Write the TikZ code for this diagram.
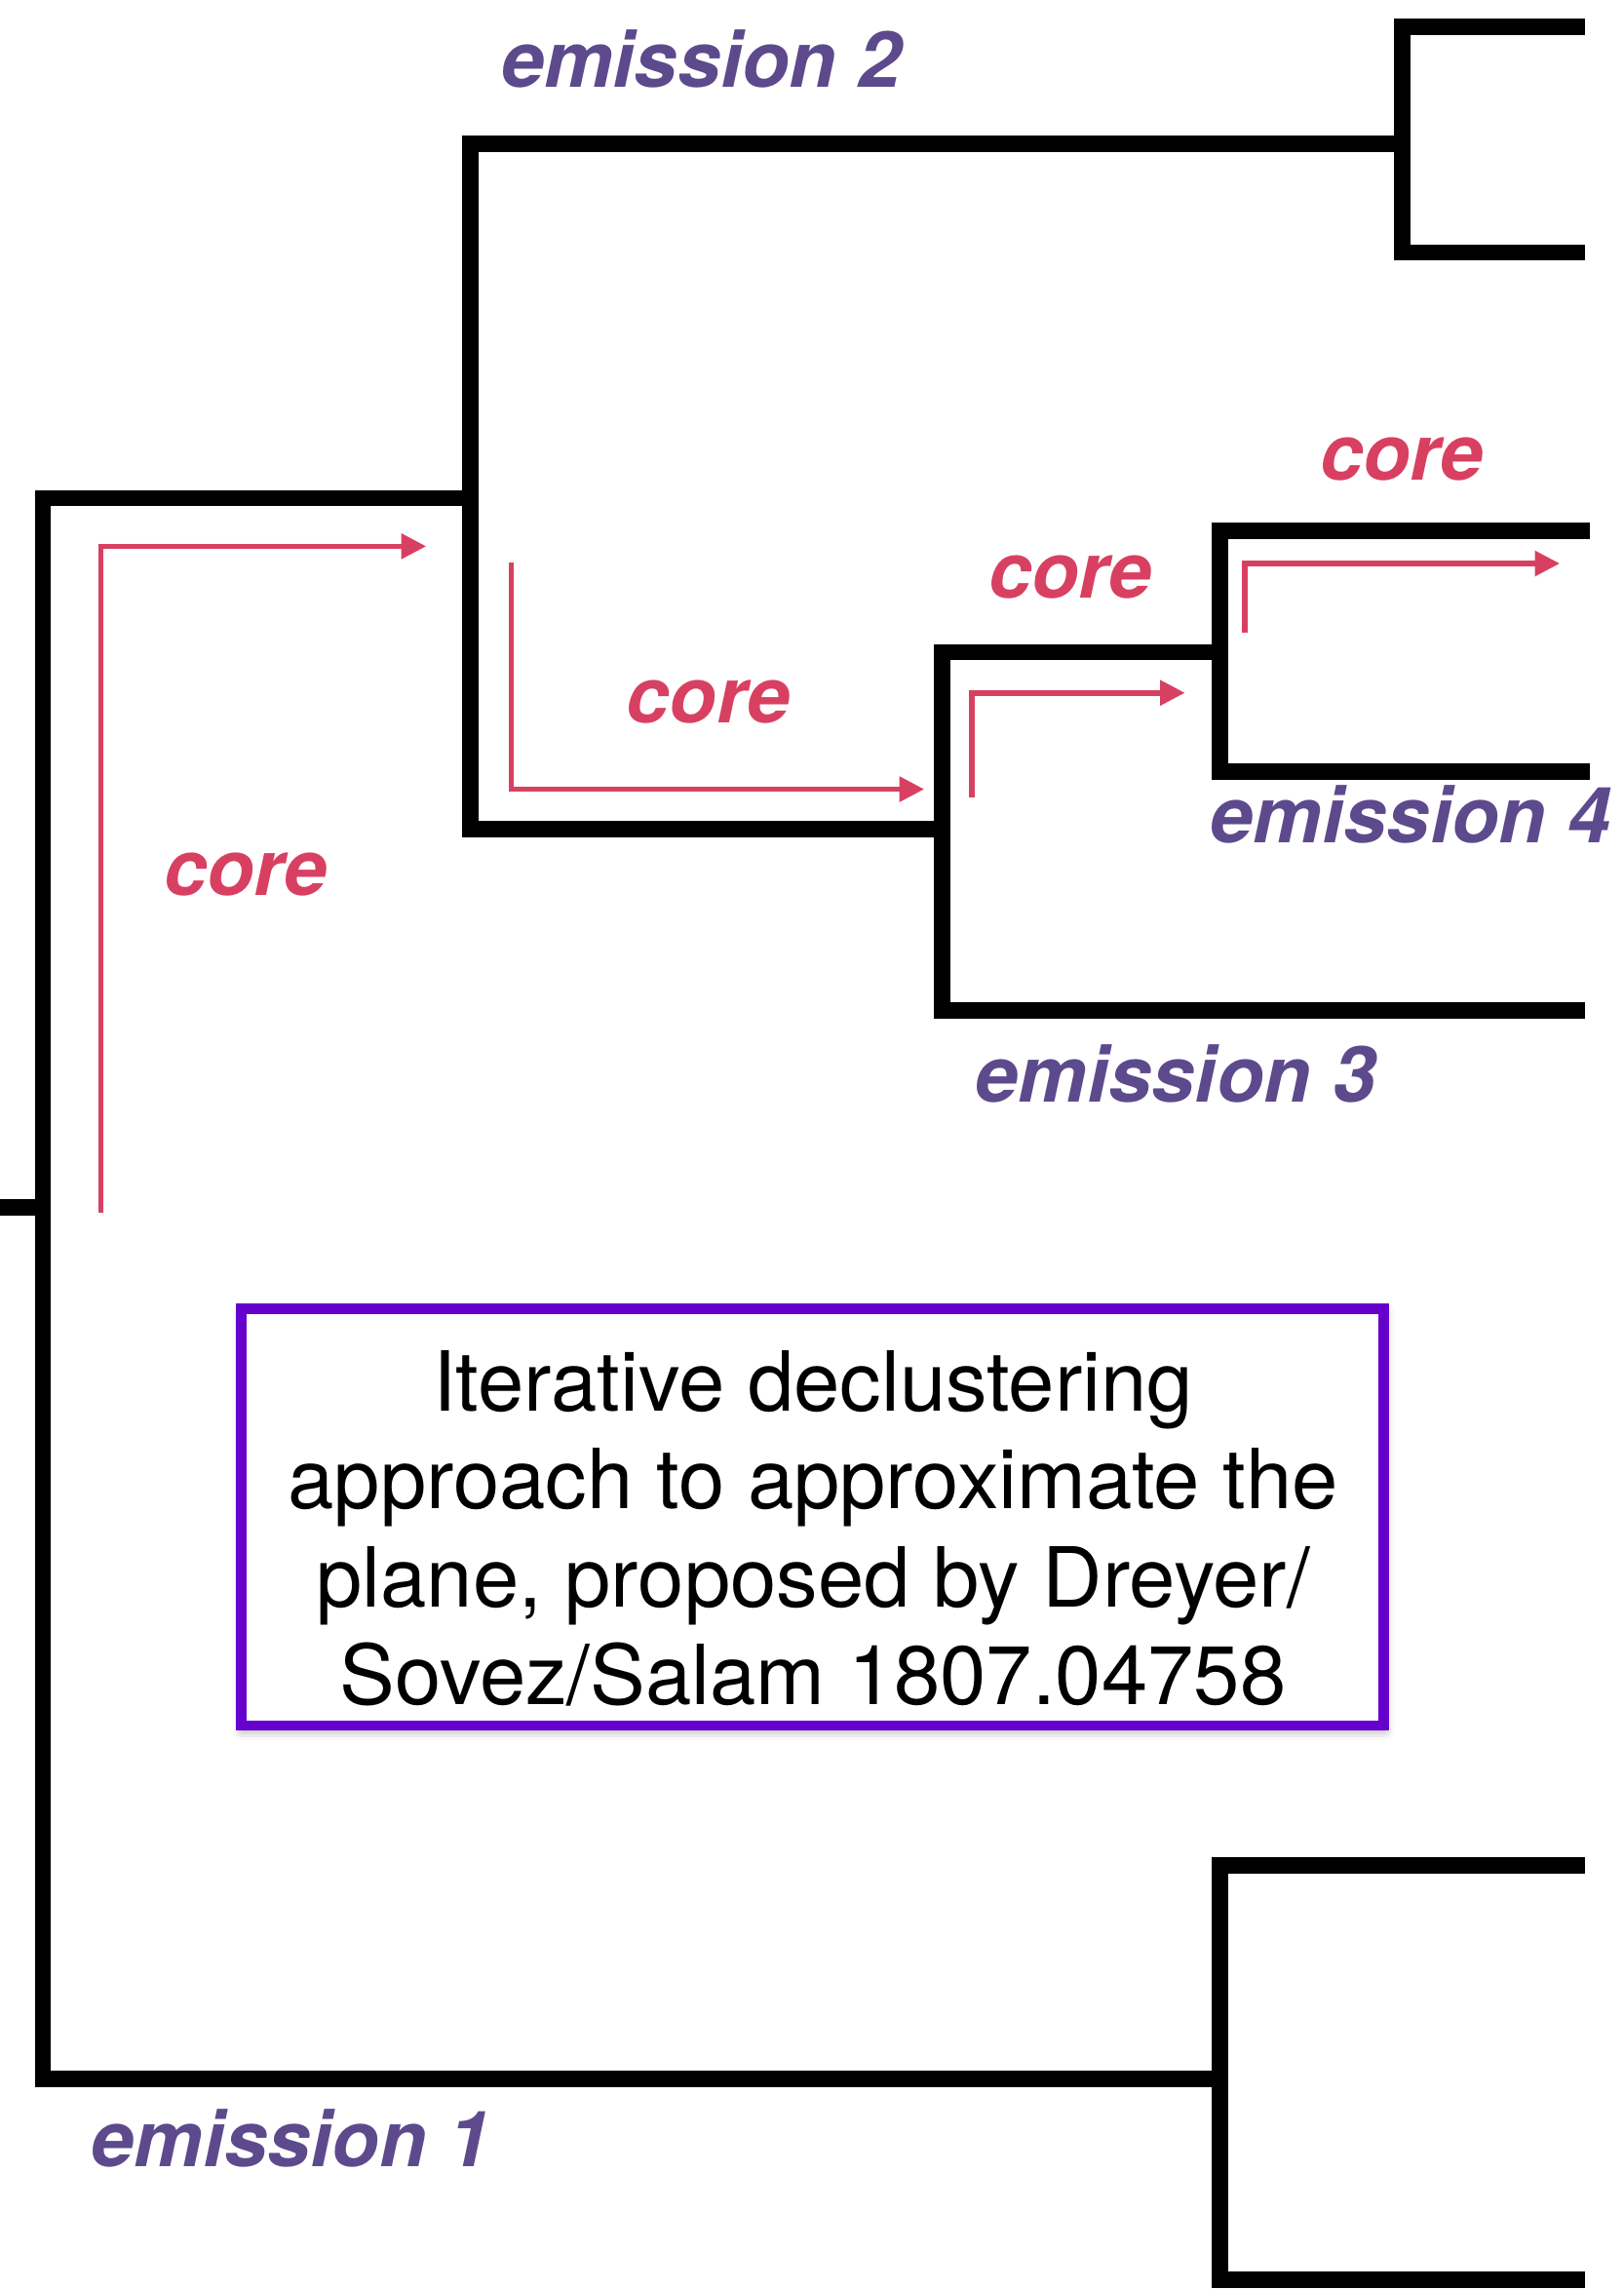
\documentclass[tikz,border=0pt]{standalone}
\usepackage{fontspec}
\setmainfont{TeX Gyre Heros}
\usetikzlibrary{arrows.meta,shadows.blur}
\definecolor{corered}{HTML}{D84062}
\definecolor{empurple}{HTML}{5D4A8C}
\definecolor{boxpurple}{HTML}{6600CC}
\begin{document}
\begin{tikzpicture}[x=0.75pt,y=-0.75pt,
  branch/.style={line width=8.4pt, line join=miter, line cap=butt, black},
  corearrow/.style={draw=corered, line width=2.85pt, line join=miter,
    -{Triangle[length=12.8pt,width=12.5pt]}},
  corelabel/.style={text=corered, inner sep=0pt, anchor=base west,
    font=\fontsize{39.8pt}{47pt}\selectfont\bfseries\itshape},
  emlabel/.style={text=empurple, inner sep=0pt, anchor=base west,
    font=\fontsize{39.8pt}{47pt}\selectfont\bfseries\itshape},
  notebox/.style={draw=boxpurple, line width=5.25pt, fill=white,
    minimum width=587pt, minimum height=214.1pt, inner sep=0pt,
    blur shadow={shadow xshift=0.5pt, shadow yshift=-2.5pt, shadow blur radius=5pt, shadow opacity=40}},
  notetext/.style={align=center, inner sep=0pt, text=black,
    font=\fontsize{42.6pt}{50.4pt}\selectfont}
]
\useasboundingbox (0,0) rectangle (1112,1568);

% --- tree coordinates ---
\coordinate (root) at (0,827);
\coordinate (n0) at (29.4,827);
\coordinate (j1top) at (29.4,341.3);
\coordinate (j1bot) at (29.4,1424);
\coordinate (j2) at (322.2,341.3);
\coordinate (v1top) at (322.2,98.4);
\coordinate (v1bot) at (322.2,567.8);
\coordinate (e2j) at (960.4,98.4);
\coordinate (e2a) at (1086,18.2);
\coordinate (e2at) at (960.4,18.2);
\coordinate (e2bt) at (960.4,173);
\coordinate (e2b) at (1086,173);
\coordinate (j3) at (645.2,567.8);
\coordinate (v2top) at (645.2,446.7);
\coordinate (v2bot) at (645.2,692.3);
\coordinate (e3end) at (1086,692.3);
\coordinate (j4) at (836,446.7);
\coordinate (v3top) at (836,363.7);
\coordinate (v3bot) at (836,528.7);
\coordinate (e4a) at (1089,363.7);
\coordinate (e4b) at (1089,528.7);
\coordinate (e1end) at (830,1424);
\coordinate (b1t) at (835.5,1277.7);
\coordinate (b1b) at (835.5,1561.6);
\coordinate (b1a) at (1086,1277.7);
\coordinate (b1c) at (1086,1561.6);

% --- black tree ---
\draw[branch] (root) -- (n0);
\draw[branch] (e1end) -- (j1bot) -- (j1top) -- (j2);
\draw[branch] (e2j) -- (v1top) -- (v1bot) -- (j3);
\draw[branch] (e2a) -- (e2at) -- (e2bt) -- (e2b);
\draw[branch] (j4) -- (v2top) -- (v2bot) -- (e3end);
\draw[branch] (e4a) -- (v3top) -- (v3bot) -- (e4b);
\draw[branch] (b1a) -- (b1t) -- (b1b) -- (b1c);

% --- core arrows ---
\coordinate (a1s) at (69.1,830.4);
\coordinate (a1c) at (69.1,374.2);
\coordinate (a1e) at (292,374.2);
\coordinate (a2s) at (350.2,385.3);
\coordinate (a2c) at (350.2,540.6);
\coordinate (a2e) at (633.2,540.6);
\coordinate (a3s) at (666,546.4);
\coordinate (a3c) at (666,474.6);
\coordinate (a3e) at (811.8,474.6);
\coordinate (a4s) at (853,433.7);
\coordinate (a4c) at (853,386);
\coordinate (a4e) at (1068.6,386);
\draw[corearrow] (a1s) -- (a1c) -- (a1e);
\draw[corearrow] (a2s) -- (a2c) -- (a2e);
\draw[corearrow] (a3s) -- (a3c) -- (a3e);
\draw[corearrow] (a4s) -- (a4c) -- (a4e);

% --- labels ---
\node[emlabel] (em2) at (343,59.5) {emission 2};
\node[emlabel] (em4) at (829,577) {emission 4};
\node[emlabel] (em3) at (668,754.7) {emission 3};
\node[emlabel] (em1) at (62,1484.5) {emission 1};
\node[corelabel] (c1) at (112,613.3) {core};
\node[corelabel] (c2) at (429,495) {core};
\node[corelabel] (c3) at (677,409.5) {core};
\node[corelabel] (c4) at (904,328.6) {core};

% --- note box ---
\node[notebox] (note) at (556.5,1039.15) {};
\node[notetext] (notetxt) at (557,1047) {Iterative declustering\\approach to approximate the\\plane, proposed by Dreyer/\\Sovez/Salam 1807.04758};
\end{tikzpicture}
\end{document}
